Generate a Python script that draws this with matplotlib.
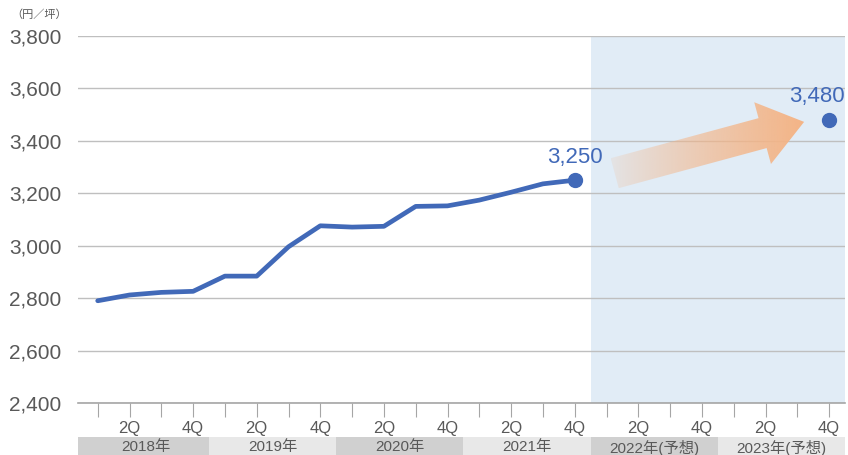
import numpy as np
import matplotlib
matplotlib.use('Agg')
import matplotlib.pyplot as plt
from matplotlib.patches import Polygon, Rectangle
from matplotlib.transforms import blended_transform_factory

plt.rcParams['font.family'] = ['Liberation Sans', 'Noto Sans CJK JP', 'DejaVu Sans']

# quarterly values 2018 1Q .. 2021 4Q, forecast 2023 4Q
actual = [2790, 2812, 2822, 2826, 2884, 2884, 2996, 3076, 3071, 3074,
          3150, 3152, 3174, 3204, 3236, 3250]
forecast_idx = 23
forecast_val = 3480
quarter_labels = ['', '2Q', '', '4Q'] * 6
years = ['2018年', '2019年', '2020年', '2021年', '2022年(予想)', '2023年(予想)']
yticks = [2400, 2600, 2800, 3000, 3200, 3400, 3600, 3800]

blue = '#4169B8'
txt = '#595959'

fig = plt.figure(figsize=(8.48, 4.55), dpi=100)
ax = fig.add_axes([78 / 848, 1 - 403 / 455, 767 / 848, 367 / 455])

x0, x1 = -0.62, 23.5
ax.set_xlim(x0, x1)
ax.set_ylim(2400, 3800)

# forecast shading
ax.axvspan(15.5, x1, color='#E1ECF6', zorder=0, lw=0)

ax.set_yticks(yticks)
ax.set_yticklabels([f'{v:,}' for v in yticks], fontsize=15, color=txt)
ax.yaxis.grid(True, color='#BFBFBF', lw=1)
ax.set_axisbelow(True)
ax.tick_params(axis='y', length=0, pad=12)

xs = np.arange(24)
ax.set_xticks(xs)
ax.set_xticklabels(quarter_labels, fontsize=12, color=txt)
ax.tick_params(axis='x', length=10, color='#A6A6A6', pad=3)
for s in ['top', 'right', 'left']:
    ax.spines[s].set_visible(False)
ax.spines['bottom'].set_color('#A6A6A6')
ax.spines['bottom'].set_linewidth(1.2)

ax.plot(np.arange(len(actual)), actual, color=blue, lw=3.4, solid_capstyle='round', zorder=3)
ax.plot([len(actual) - 1], [actual[-1]], 'o', color=blue, ms=10, zorder=4)
ax.plot([forecast_idx], [forecast_val], 'o', color=blue, ms=10, zorder=4)
ax.annotate(f'{actual[-1]:,}', (len(actual) - 1, actual[-1]), xytext=(0, 16.5),
            textcoords='offset points', ha='center', va='center', fontsize=16, color=blue)
ax.annotate(f'{forecast_val:,}', (forecast_idx, forecast_val), xytext=(-8.6, 17),
            textcoords='offset points', ha='center', va='center', fontsize=16, color=blue)

# gradient arrow from last actual to forecast (built in pixel space)
p0 = ax.transData.transform((len(actual) - 1, actual[-1])) + np.array([40, 7])
p1 = ax.transData.transform((forecast_idx, forecast_val)) + np.array([-25, -2])
d = (p1 - p0) / np.linalg.norm(p1 - p0)
n = np.array([-d[1], d[0]])
shaft_w, head_w, head_l = 31, 64, 43
hb = p1 - d * head_l
pts = [p0 + n * shaft_w / 2, hb + n * shaft_w / 2, hb + n * head_w / 2, p1,
       hb - n * head_w / 2, hb - n * shaft_w / 2, p0 - n * shaft_w / 2]
pts_data = ax.transData.inverted().transform(np.array(pts))
poly = Polygon(pts_data, closed=True, fc='none', ec='none')
ax.add_patch(poly)
grad = np.zeros((2, 256, 4))
grad[..., 0] = 244 / 255
grad[..., 1] = 180 / 255
grad[..., 2] = 134 / 255
grad[..., 3] = np.linspace(0.08, 1.0, 256) ** 0.75
ext = [pts_data[:, 0].min(), pts_data[:, 0].max(), pts_data[:, 1].min(), pts_data[:, 1].max()]
im = ax.imshow(grad, extent=ext, aspect='auto', origin='lower', zorder=2, interpolation='bilinear')
im.set_clip_path(poly)
ax.set_xlim(x0, x1)
ax.set_ylim(2400, 3800)

# year band
tr = blended_transform_factory(ax.transData, fig.transFigure)
for i, y in enumerate(years):
    left = x0 if i == 0 else i * 4 - 0.5
    right = i * 4 + 3.5
    fc = '#D0D0D0' if i % 2 == 0 else '#E8E8E8'
    fig.patches.append(Rectangle((left, 0), right - left, 18 / 455, transform=tr,
                                 fc=fc, ec='none'))
    fig.text((max(left, i * 4 - 0.5) + right) / 2, 7.5 / 455, y, transform=tr,
             ha='center', va='center', fontsize=11, color=txt)

fig.text(39 / 848, 1 - 15 / 455, '（円／坪）', ha='center', va='center', fontsize=8, color=txt)

fig.savefig('out.png', dpi=100)
